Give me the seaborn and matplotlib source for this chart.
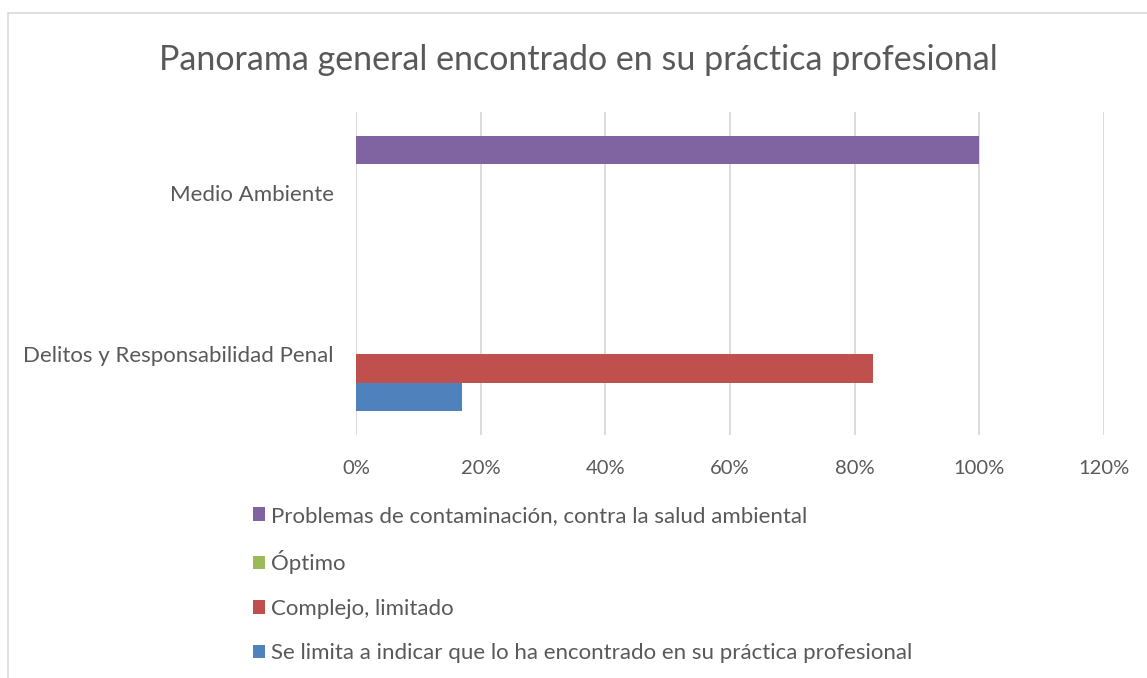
import numpy as np
import pandas as pd
import matplotlib
matplotlib.use('Agg')
import matplotlib.pyplot as plt
import seaborn as sns
from matplotlib.patches import Patch
from matplotlib.ticker import PercentFormatter

# data
categories = ['Medio Ambiente', 'Delitos y Responsabilidad Penal']
series = ['Problemas de contaminación, contra la salud ambiental',
          'Óptimo',
          'Complejo, limitado',
          'Se limita a indicar que lo ha encontrado en su práctica profesional']
problemas = [1.00, 0.00]
optimo = [0.00, 0.00]
complejo = [0.00, 0.83]
se_limita = [0.00, 0.17]
colors = ['#8064A2', '#9BBB59', '#C0504D', '#4F81BD']

rows = []
for s, vals in zip(series, [problemas, optimo, complejo, se_limita]):
    for c, v in zip(categories, vals):
        rows.append({'Categoria': c, 'Serie': s, 'Valor': v})
df = pd.DataFrame(rows)

sns.set_style('white')
plt.rcParams['font.family'] = ['Lato', 'DejaVu Sans']
text_color = '#595959'

fig = plt.figure(figsize=(11.47, 6.78), dpi=100)
ax = fig.add_axes([0.3104, 0.3584, 0.6521, 0.4764])

sns.barplot(data=df, x='Valor', y='Categoria', hue='Serie', order=categories,
            hue_order=series, palette=colors, orient='h', width=0.7,
            saturation=1, linewidth=0, ax=ax, legend=False)

ax.set_xlim(0, 1.2)
ax.set_xticks(np.arange(0, 1.21, 0.2))
ax.xaxis.set_major_formatter(PercentFormatter(1.0, decimals=0))
ax.grid(axis='x', color='#d9d9d9', linewidth=1.3)
ax.set_axisbelow(True)
for sp in ax.spines.values():
    sp.set_visible(False)
ax.set_xlabel('')
ax.set_ylabel('')
ax.tick_params(axis='x', length=0, pad=18, labelsize=14.5, labelcolor=text_color)
ax.tick_params(axis='y', length=0, pad=16, labelsize=16, labelcolor=text_color)

fig.text(0.504, 0.912, 'Panorama general encontrado en su práctica profesional',
         ha='center', va='center', fontsize=24.5, color=text_color)

handles = [Patch(facecolor=c, edgecolor='none') for c in colors]
leg = fig.legend(handles, series, loc='upper left', bbox_to_anchor=(0.2206, 0.2537),
                 frameon=False, fontsize=16, handlelength=0.55, handleheight=0.55,
                 handletextpad=0.25, labelspacing=1.1, borderaxespad=0, borderpad=0)
for t in leg.get_texts():
    t.set_color(text_color)

# chart frame
fig.add_artist(plt.Line2D([8 / 1147, 8 / 1147], [0, 1 - 13 / 678],
                          transform=fig.transFigure, color='#d9d9d9', linewidth=1.2))
fig.add_artist(plt.Line2D([8 / 1147, 1], [1 - 13 / 678, 1 - 13 / 678],
                          transform=fig.transFigure, color='#d9d9d9', linewidth=1.2))

fig.savefig('out.png', dpi=100)
